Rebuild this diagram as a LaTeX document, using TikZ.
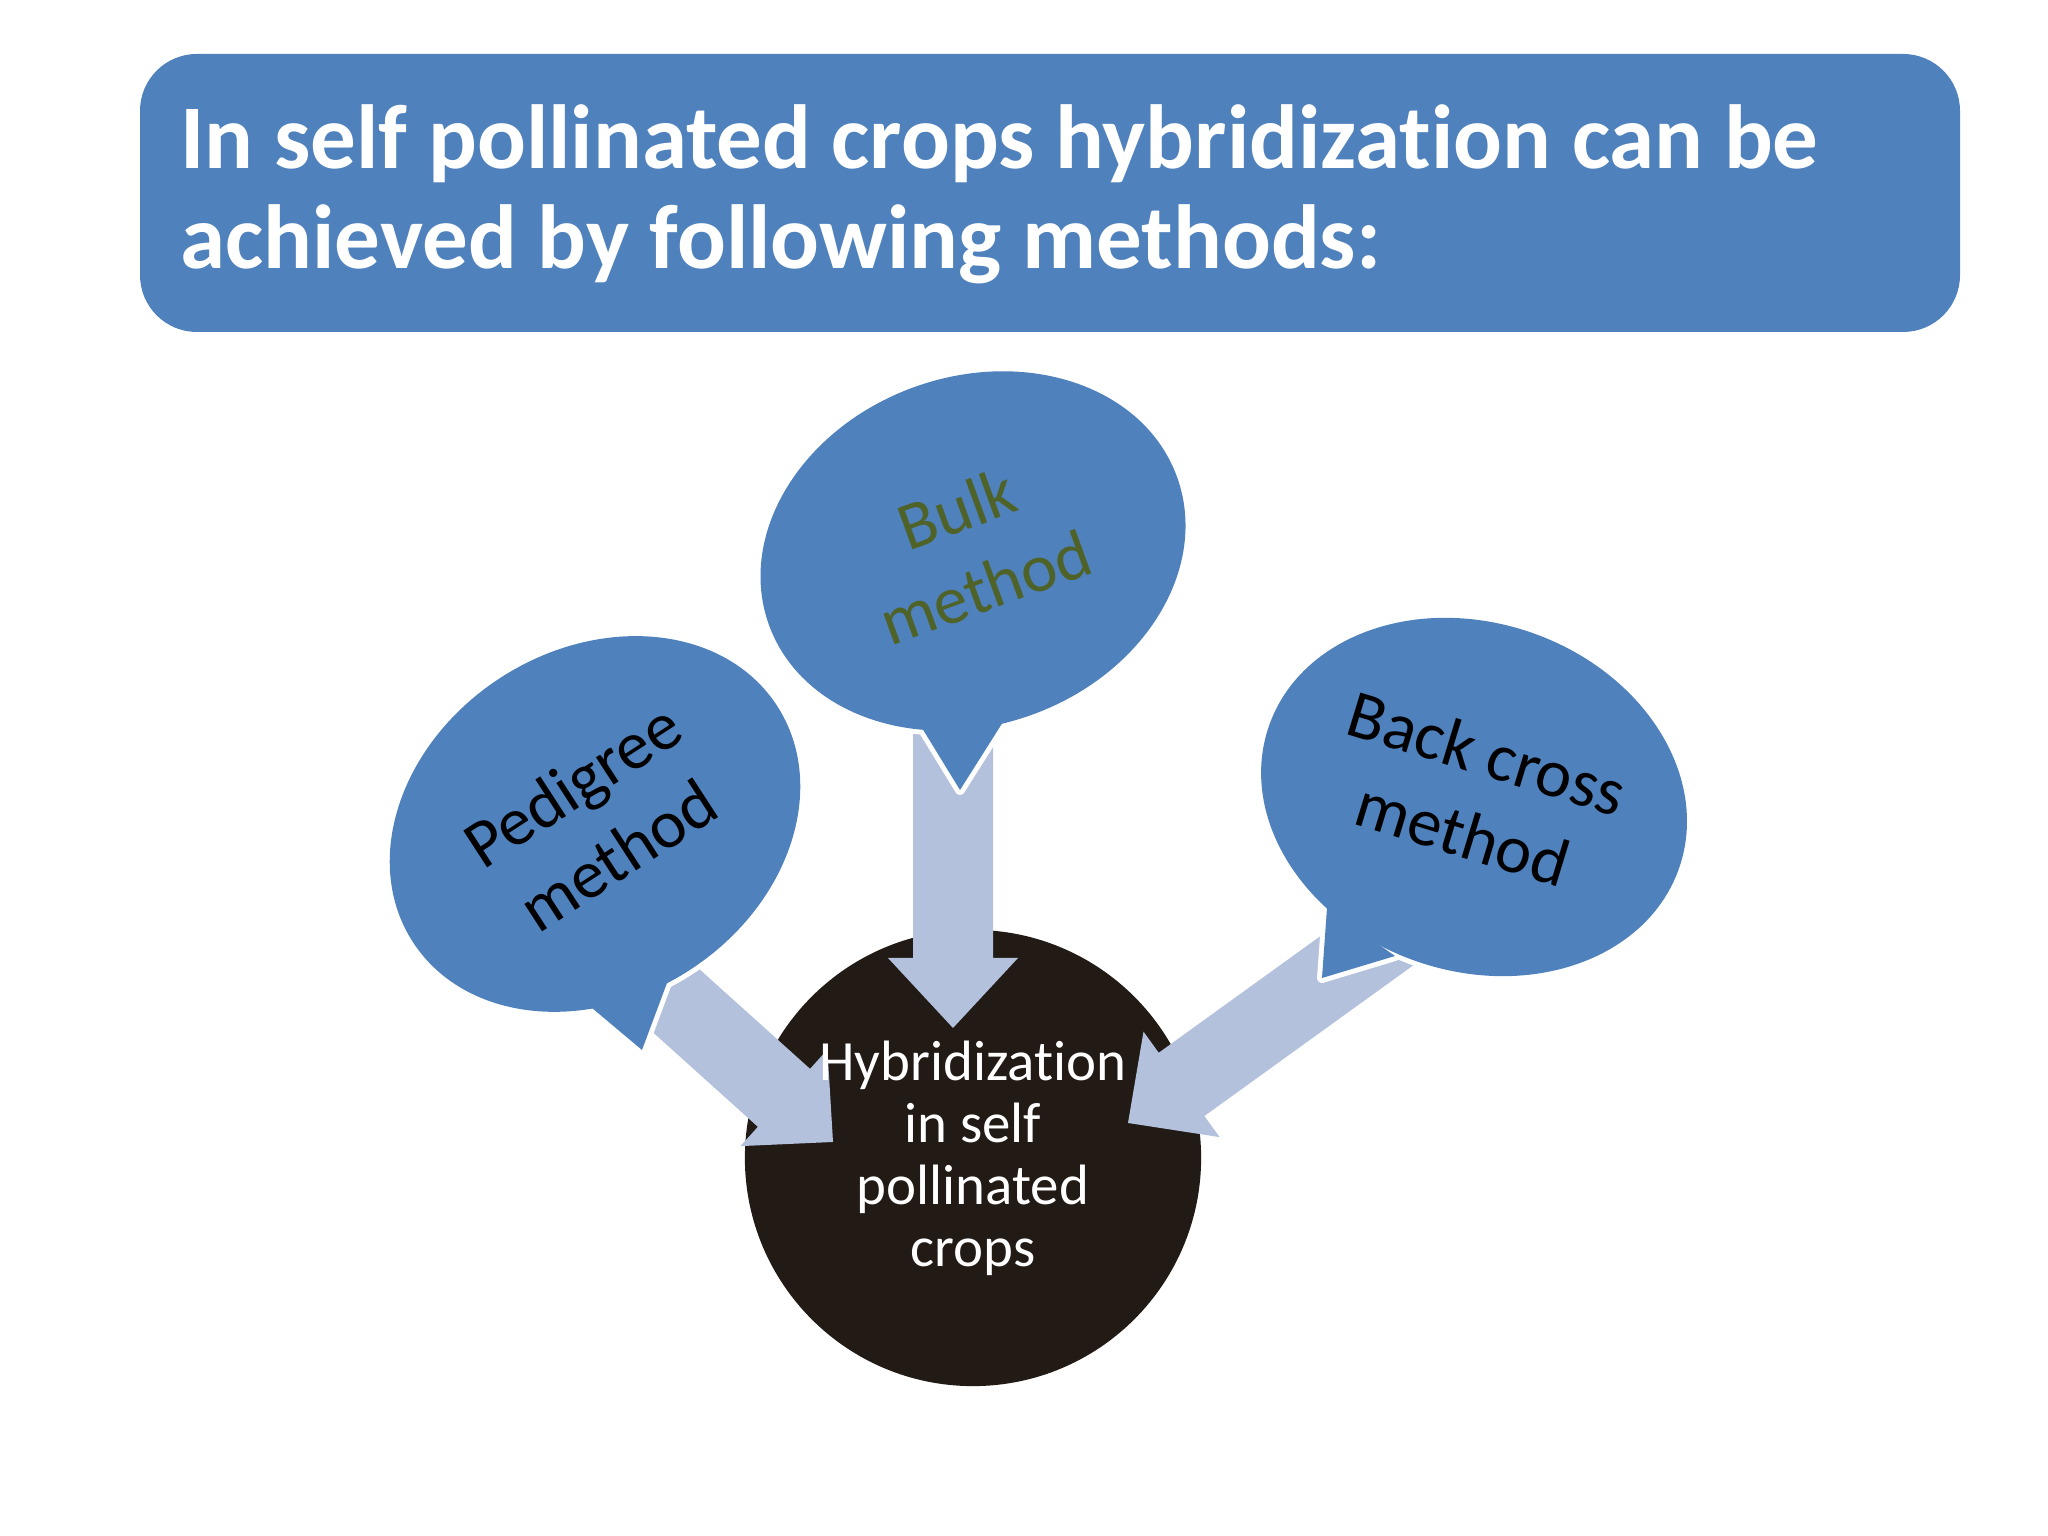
\documentclass[tikz,border=0pt]{standalone}
\usepackage{fontspec}
\setmainfont{Carlito}[Ligatures=NoCommon]
\definecolor{accblue}{HTML}{4F81BD}
\definecolor{arrowblue}{HTML}{B3C1DD}
\definecolor{hubdark}{HTML}{211A15}
\definecolor{olivetext}{HTML}{4F6228}
\tikzset{
  bubbleedge/.style={draw=white, line width=3.5pt, line join=round},
  bubblefill/.style={fill=accblue},
  blockarrow/.style={fill=arrowblue},
  bubbletext/.style={font=\fontsize{24}{29.5}\selectfont, align=center, inner sep=0pt},
  titletext/.style={font=\fontsize{32}{35.2}\selectfont\bfseries, text=white, align=left, inner sep=0pt, anchor=base west},
  hubtext/.style={font=\fontsize{20}{21.8}\selectfont, text=white, align=center, inner sep=0pt, anchor=base}
}
\begin{document}
\begin{tikzpicture}[x=0.3515625pt,y=0.3515625pt]
\useasboundingbox[fill=white] (0,0) rectangle (2048,1536);

% title banner
\fill[accblue, rounded corners=20pt] (140,1204) rectangle (1960,1482);
\node[titletext] (title) at (180,1267) {In self pollinated crops hybridization can be\\achieved by following methods:};

% central circle
\fill[hubdark] (973,378) circle [radius=80.2pt];
\coordinate (hub) at (973,378);

% block arrows (drawn under the callouts)
\coordinate (bulkTip) at (953,508);
\coordinate (pedTip) at (833,394);
\coordinate (bcTip) at (1128,413);
\begin{scope}[shift={(bulkTip)}, rotate=-90]
  \fill[blockarrow] (0,0) -- (-70,65) -- (-70,40) -- (-294,40) -- (-294,-40) -- (-70,-40) -- (-70,-65) -- cycle;
\end{scope}
\begin{scope}[shift={(pedTip)}, rotate=-42]
  \fill[blockarrow] (0,0) -- (-66,65) -- (-66,39) -- (-235,39) -- (-235,-39) -- (-66,-39) -- (-66,-65) -- cycle;
\end{scope}
\begin{scope}[shift={(bcTip)}, rotate=215.8]
  \fill[blockarrow] (0,0) -- (-66,65) -- (-66,39) -- (-345,39) -- (-345,-39) -- (-66,-39) -- (-66,-65) -- cycle;
\end{scope}

% callout: Bulk method
\coordinate (bulkC) at (973,985);
\coordinate (bulkT) at (960,746);
\coordinate (bulkL) at (922,808);
\coordinate (bulkR) at (1003,814);
\draw[bubbleedge, rotate around={20:(bulkC)}] (bulkC) ellipse [x radius=76.3pt, y radius=61.2pt];
\draw[bubbleedge] (bulkL) -- (bulkT) -- (bulkR) -- cycle;
\fill[bubblefill, rotate around={20:(bulkC)}] (bulkC) ellipse [x radius=76.3pt, y radius=61.2pt];
\fill[bubblefill] (bulkL) -- (bulkT) -- (bulkR) -- cycle;
\node[bubbletext, text=olivetext, rotate=20] (bulk) at (971,988) {Bulk\\method};

% callout: Pedigree method
\coordinate (pedC) at (595,712);
\coordinate (pedT) at (642,486);
\coordinate (pedL) at (592,528);
\coordinate (pedR) at (667,553);
\draw[bubbleedge, rotate around={33:(pedC)}] (pedC) ellipse [x radius=76.3pt, y radius=61.2pt];
\draw[bubbleedge] (pedL) -- (pedT) -- (pedR) -- cycle;
\fill[bubblefill, rotate around={33:(pedC)}] (pedC) ellipse [x radius=76.3pt, y radius=61.2pt];
\fill[bubblefill] (pedL) -- (pedT) -- (pedR) -- cycle;
\node[bubbletext, text=black, rotate=33] (pedigree) at (595,716) {Pedigree\\method};

% callout: Back cross method
\coordinate (bcC) at (1474,739);
\coordinate (bcT) at (1322,558);
\coordinate (bcL) at (1327,628);
\coordinate (bcR) at (1395,580);
\draw[bubbleedge, rotate around={-19:(bcC)}] (bcC) ellipse [x radius=76.3pt, y radius=61.2pt];
\draw[bubbleedge] (bcL) -- (bcT) -- (bcR) -- cycle;
\fill[bubblefill, rotate around={-19:(bcC)}] (bcC) ellipse [x radius=76.3pt, y radius=61.2pt];
\fill[bubblefill] (bcL) -- (bcT) -- (bcR) -- cycle;
\node[bubbletext, text=black, rotate=-17] (backcross) at (1475,743) {Back cross\\method};

% central text
\node[hubtext] (hubtext) at (973,269) {Hybridization\\in self\\pollinated\\crops};
\end{tikzpicture}
\end{document}
